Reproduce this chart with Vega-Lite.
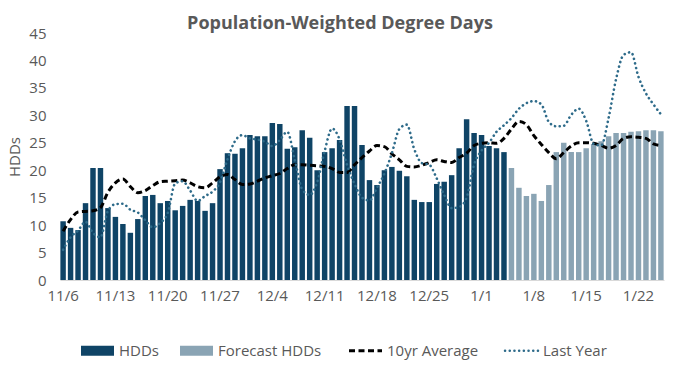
{
  "$schema": "https://vega.github.io/schema/vega-lite/v6.json",
  "width": 604,
  "height": 247,
  "autosize": "none",
  "padding": {"left": 60, "top": 33, "right": 19, "bottom": 87},
  "background": "white",
  "config": {
    "font": "Open Sans",
    "view": {"stroke": null},
    "axis": {"grid": false, "ticks": false, "labelColor": "#595959", "titleColor": "#595959", "labelFontSize": 15, "labelFont": "Open Sans", "titleFont": "Open Sans"},
    "axisY": {"labelOverlap": false, "domain": false, "labelPadding": 14, "titlePadding": 6, "titleFontWeight": "normal", "titleFontSize": 15},
    "legend": {"labelFont": "Open Sans"}
  },
  "title": {"text": "Population-Weighted Degree Days", "fontSize": 18, "fontWeight": "bold", "color": "#595959", "anchor": "middle", "dx": -22, "dy": 7, "offset": 0, "font": "Open Sans"},
  "data": {"values": [
    {"d": "11/6", "hdd": 10.7, "fc": null, "avg": 8.9, "ly": 5.5},
    {"d": "11/7", "hdd": 9.5, "fc": null, "avg": 11.0, "ly": 7.8},
    {"d": "11/8", "hdd": 9.1, "fc": null, "avg": 12.4, "ly": 9.0},
    {"d": "11/9", "hdd": 14.0, "fc": null, "avg": 12.5, "ly": 10.6},
    {"d": "11/10", "hdd": 20.4, "fc": null, "avg": 12.6, "ly": 8.6},
    {"d": "11/11", "hdd": 20.4, "fc": null, "avg": 13.2, "ly": 7.8},
    {"d": "11/12", "hdd": 13.1, "fc": null, "avg": 16.0, "ly": 12.6},
    {"d": "11/13", "hdd": 11.5, "fc": null, "avg": 17.7, "ly": 13.8},
    {"d": "11/14", "hdd": 10.2, "fc": null, "avg": 18.4, "ly": 13.9},
    {"d": "11/15", "hdd": 8.6, "fc": null, "avg": 17.0, "ly": 12.8},
    {"d": "11/16", "hdd": 11.1, "fc": null, "avg": 15.9, "ly": 12.3},
    {"d": "11/17", "hdd": 15.3, "fc": null, "avg": 16.3, "ly": 10.9},
    {"d": "11/18", "hdd": 15.5, "fc": null, "avg": 17.2, "ly": 9.6},
    {"d": "11/19", "hdd": 14.0, "fc": null, "avg": 17.9, "ly": 10.4},
    {"d": "11/20", "hdd": 14.4, "fc": null, "avg": 18.0, "ly": 12.2},
    {"d": "11/21", "hdd": 12.7, "fc": null, "avg": 18.1, "ly": 17.6},
    {"d": "11/22", "hdd": 13.5, "fc": null, "avg": 18.2, "ly": 18.0},
    {"d": "11/23", "hdd": 14.6, "fc": null, "avg": 17.7, "ly": 16.3},
    {"d": "11/24", "hdd": 14.4, "fc": null, "avg": 17.0, "ly": 14.4},
    {"d": "11/25", "hdd": 12.6, "fc": null, "avg": 16.8, "ly": 15.3},
    {"d": "11/26", "hdd": 14.0, "fc": null, "avg": 17.7, "ly": 16.1},
    {"d": "11/27", "hdd": 20.2, "fc": null, "avg": 18.8, "ly": 17.8},
    {"d": "11/28", "hdd": 23.1, "fc": null, "avg": 19.2, "ly": 22.0},
    {"d": "11/29", "hdd": 23.0, "fc": null, "avg": 18.3, "ly": 25.3},
    {"d": "11/30", "hdd": 24.0, "fc": null, "avg": 17.4, "ly": 26.4},
    {"d": "12/1", "hdd": 26.4, "fc": null, "avg": 17.5, "ly": 25.8},
    {"d": "12/2", "hdd": 26.2, "fc": null, "avg": 18.0, "ly": 25.6},
    {"d": "12/3", "hdd": 26.2, "fc": null, "avg": 18.6, "ly": 25.2},
    {"d": "12/4", "hdd": 28.6, "fc": null, "avg": 19.0, "ly": 24.4},
    {"d": "12/5", "hdd": 28.4, "fc": null, "avg": 19.4, "ly": 25.5},
    {"d": "12/6", "hdd": 23.9, "fc": null, "avg": 20.3, "ly": 27.0},
    {"d": "12/7", "hdd": 24.2, "fc": null, "avg": 21.0, "ly": 21.9},
    {"d": "12/8", "hdd": 27.3, "fc": null, "avg": 21.0, "ly": 16.5},
    {"d": "12/9", "hdd": 25.9, "fc": null, "avg": 20.9, "ly": 15.5},
    {"d": "12/10", "hdd": 20.0, "fc": null, "avg": 20.8, "ly": 17.8},
    {"d": "12/11", "hdd": 23.3, "fc": null, "avg": 20.7, "ly": 23.5},
    {"d": "12/12", "hdd": 24.0, "fc": null, "avg": 20.3, "ly": 27.6},
    {"d": "12/13", "hdd": 25.5, "fc": null, "avg": 19.6, "ly": 25.6},
    {"d": "12/14", "hdd": 31.7, "fc": null, "avg": 19.6, "ly": 21.0},
    {"d": "12/15", "hdd": 31.7, "fc": null, "avg": 21.0, "ly": 17.5},
    {"d": "12/16", "hdd": 24.6, "fc": null, "avg": 22.3, "ly": 15.0},
    {"d": "12/17", "hdd": 18.2, "fc": null, "avg": 23.5, "ly": 14.5},
    {"d": "12/18", "hdd": 17.3, "fc": null, "avg": 24.5, "ly": 16.8},
    {"d": "12/19", "hdd": 20.0, "fc": null, "avg": 24.3, "ly": 19.4},
    {"d": "12/20", "hdd": 20.6, "fc": null, "avg": 23.0, "ly": 23.1},
    {"d": "12/21", "hdd": 19.9, "fc": null, "avg": 21.9, "ly": 27.5},
    {"d": "12/22", "hdd": 18.9, "fc": null, "avg": 20.7, "ly": 28.3},
    {"d": "12/23", "hdd": 14.6, "fc": null, "avg": 20.6, "ly": 23.8},
    {"d": "12/24", "hdd": 14.2, "fc": null, "avg": 20.9, "ly": 21.3},
    {"d": "12/25", "hdd": 14.2, "fc": null, "avg": 21.4, "ly": 21.0},
    {"d": "12/26", "hdd": 17.5, "fc": null, "avg": 21.9, "ly": 18.5},
    {"d": "12/27", "hdd": 17.9, "fc": null, "avg": 21.6, "ly": 15.5},
    {"d": "12/28", "hdd": 19.1, "fc": null, "avg": 21.4, "ly": 13.1},
    {"d": "12/29", "hdd": 24.0, "fc": null, "avg": 22.3, "ly": 13.3},
    {"d": "12/30", "hdd": 29.3, "fc": null, "avg": 23.1, "ly": 15.0},
    {"d": "12/31", "hdd": 26.8, "fc": null, "avg": 24.5, "ly": 21.0},
    {"d": "1/1", "hdd": 26.4, "fc": null, "avg": 24.9, "ly": 23.6},
    {"d": "1/2", "hdd": 24.4, "fc": null, "avg": 25.0, "ly": 25.0},
    {"d": "1/3", "hdd": 24.0, "fc": null, "avg": 24.9, "ly": 27.0},
    {"d": "1/4", "hdd": 23.3, "fc": null, "avg": 25.8, "ly": 28.2},
    {"d": "1/5", "hdd": null, "fc": 20.4, "avg": 27.5, "ly": 29.5},
    {"d": "1/6", "hdd": null, "fc": 16.8, "avg": 28.9, "ly": 31.2},
    {"d": "1/7", "hdd": null, "fc": 15.3, "avg": 28.3, "ly": 32.2},
    {"d": "1/8", "hdd": null, "fc": 15.7, "avg": 26.3, "ly": 32.6},
    {"d": "1/9", "hdd": null, "fc": 14.4, "avg": 24.7, "ly": 32.0},
    {"d": "1/10", "hdd": null, "fc": 17.3, "avg": 23.2, "ly": 28.8},
    {"d": "1/11", "hdd": null, "fc": 23.3, "avg": 22.1, "ly": 28.0},
    {"d": "1/12", "hdd": null, "fc": 25.0, "avg": 23.2, "ly": 28.1},
    {"d": "1/13", "hdd": null, "fc": 23.3, "avg": 24.4, "ly": 30.1},
    {"d": "1/14", "hdd": null, "fc": 23.3, "avg": 25.0, "ly": 31.2},
    {"d": "1/15", "hdd": null, "fc": 24.0, "avg": 25.0, "ly": 29.0},
    {"d": "1/16", "hdd": null, "fc": 24.8, "avg": 24.9, "ly": 24.8},
    {"d": "1/17", "hdd": null, "fc": 25.3, "avg": 24.5, "ly": 24.5},
    {"d": "1/18", "hdd": null, "fc": 26.2, "avg": 24.0, "ly": 29.5},
    {"d": "1/19", "hdd": null, "fc": 26.8, "avg": 24.5, "ly": 36.6},
    {"d": "1/20", "hdd": null, "fc": 26.8, "avg": 25.8, "ly": 41.0},
    {"d": "1/21", "hdd": null, "fc": 27.0, "avg": 26.1, "ly": 41.5},
    {"d": "1/22", "hdd": null, "fc": 27.1, "avg": 26.0, "ly": 37.0},
    {"d": "1/23", "hdd": null, "fc": 27.3, "avg": 25.8, "ly": 34.0},
    {"d": "1/24", "hdd": null, "fc": 27.3, "avg": 24.8, "ly": 32.0},
    {"d": "1/25", "hdd": null, "fc": 27.1, "avg": 24.5, "ly": 30.2}
  ]},
  "encoding": {
    "x": {
      "field": "d", "type": "ordinal", "sort": null,
      "scale": {"paddingInner": 0.27, "paddingOuter": 0.05},
      "axis": {
        "values": ["11/6","11/13","11/20","11/27","12/4","12/11","12/18","12/25","1/1","1/8","1/15","1/22"],
        "labelAngle": 0, "title": null, "domainColor": "#D9D9D9", "domainWidth": 1, "labelPadding": 8, "labelOverlap": false
      }
    }
  },
  "layer": [
    {
      "mark": {"type": "bar"},
      "encoding": {
        "y": {"field": "hdd", "type": "quantitative", "title": "HDDs",
          "scale": {"domain": [0, 45], "nice": false},
          "axis": {"values": [0,5,10,15,20,25,30,35,40,45], "tickCount": 10}},
        "color": {
          "datum": "HDDs", "type": "nominal",
          "scale": {"domain": ["HDDs", "Forecast HDDs", "10yr Average", "Last Year"], "range": ["#0F4466", "#8AA4B4", "#000000", "#2E6B8A"]},
          "legend": {
            "orient": "none", "legendX": 30, "legendY": 310, "direction": "horizontal", "title": null,
            "symbolSize": 1089, "labelFontSize": 15, "labelColor": "#595959", "labelOffset": 14, "columnPadding": 21,
            "encode": {"symbols": {"update": {
              "shape": {"signal": "(datum.value == 'HDDs' || datum.value == 'Forecast HDDs') ? 'M-1,-0.3H1V0.3H-1Z' : 'stroke'"},
              "fill": {"signal": "datum.value == 'HDDs' ? '#0F4466' : (datum.value == 'Forecast HDDs' ? '#8AA4B4' : 'transparent')"},
              "stroke": {"signal": "datum.value == '10yr Average' ? '#000000' : (datum.value == 'Last Year' ? '#2E6B8A' : 'transparent')"},
              "strokeWidth": {"signal": "datum.value == '10yr Average' ? 3 : (datum.value == 'Last Year' ? 2.5 : 0)"},
              "strokeDash": {"signal": "datum.value == '10yr Average' ? [6, 3.5] : (datum.value == 'Last Year' ? [0.1, 4.6] : [1, 0])"},
              "strokeCap": {"signal": "datum.value == 'Last Year' ? 'round' : 'butt'"},
              "opacity": {"value": 1}
            }}}
          }
        }
      }
    },
    {
      "mark": {"type": "bar"},
      "encoding": {
        "y": {"field": "fc", "type": "quantitative", "title": "HDDs",
          "axis": {"values": [0,5,10,15,20,25,30,35,40,45], "tickCount": 10}},
        "color": {"datum": "Forecast HDDs", "type": "nominal"}
      }
    },
    {
      "mark": {"type": "line", "interpolate": "monotone", "strokeWidth": 3, "strokeDash": [6, 3.5]},
      "encoding": {
        "y": {"field": "avg", "type": "quantitative", "title": "HDDs",
          "axis": {"values": [0,5,10,15,20,25,30,35,40,45], "tickCount": 10}},
        "color": {"datum": "10yr Average", "type": "nominal"}
      }
    },
    {
      "mark": {"type": "line", "interpolate": "monotone", "strokeWidth": 2.6, "strokeDash": [0.1, 4.6], "strokeCap": "round"},
      "encoding": {
        "y": {"field": "ly", "type": "quantitative", "title": "HDDs",
          "axis": {"values": [0,5,10,15,20,25,30,35,40,45], "tickCount": 10}},
        "color": {"datum": "Last Year", "type": "nominal"}
      }
    }
  ]
}
